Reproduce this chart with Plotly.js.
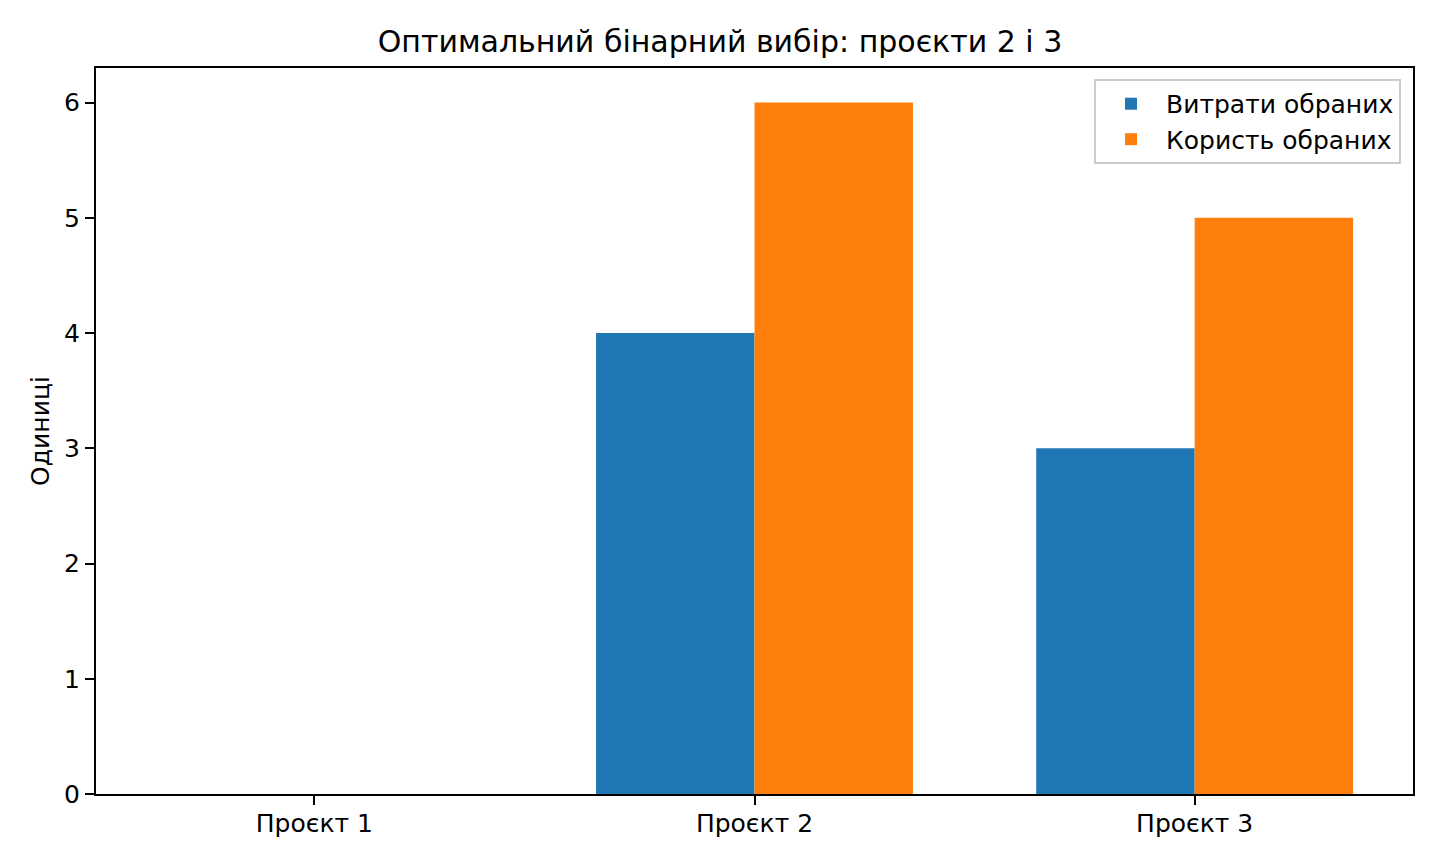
<!DOCTYPE html>
<html>
<head>
<meta charset="utf-8">
<script src="https://cdn.plot.ly/plotly-3.0.1.min.js"></script>
<style>
  html, body { margin: 0; padding: 0; background: #fff; }
  #chart { width: 1440px; height: 864px; }
</style>
</head>
<body>
<div id="chart"></div>
<script>
/* Data */
const projects = ['Проєкт 1', 'Проєкт 2', 'Проєкт 3'];
const costSelected = [0, 4, 3];
const benefitSelected = [0, 6, 5];
const yTicks = [0, 1, 2, 3, 4, 5, 6];

const FONT = 'DejaVu Sans, sans-serif';

const axisBase = {
  showline: true, linecolor: '#000', linewidth: 2, mirror: true,
  ticks: 'outside', ticklen: 9, tickwidth: 2, tickcolor: '#000',
  showgrid: false, zeroline: false,
  tickfont: { family: FONT, size: 25, color: '#000' }
};

const traces = [
  {
    x: projects, y: costSelected, type: 'bar', name: 'Витрати обраних',
    marker: { color: '#1f77b4', line: { width: 0 } }
  },
  {
    x: projects, y: benefitSelected, type: 'bar', name: 'Користь обраних',
    marker: { color: '#ff7f0e', line: { width: 0 } }
  }
];

const layout = {
  width: 1440, height: 864,
  paper_bgcolor: '#fff', plot_bgcolor: '#fff',
  margin: { l: 96, r: 27, t: 68, b: 70 },
  font: { family: FONT, size: 25, color: '#000' },
  title: {
    text: 'Оптимальний бінарний вибір: проєкти 2 і 3',
    font: { family: FONT, size: 30, color: '#000' },
    x: 0.5, xanchor: 'center', y: 1 - 41 / 864, yanchor: 'middle'
  },
  barmode: 'group', bargap: 0.28, bargroupgap: 0,
  xaxis: Object.assign({}, axisBase, {
    type: 'category', range: [-0.496, 2.496], ticklabelstandoff: -3
  }),
  yaxis: Object.assign({}, axisBase, {
    range: [0, 6.3], tickvals: yTicks, ticktext: yTicks.map(String),
    title: { text: 'Одиниці', font: { family: FONT, size: 25, color: '#000' }, standoff: 7 }
  }),
  showlegend: true,
  legend: {
    x: 0.9909, xanchor: 'right', y: 0.9849, yanchor: 'top',
    bgcolor: 'rgba(255,255,255,0.8)', bordercolor: '#cccccc', borderwidth: 2,
    font: { family: FONT, size: 25, color: '#000' },
    traceorder: 'normal', itemwidth: 60, tracegroupgap: 0
  }
};

Plotly.newPlot('chart', traces, layout, { displayModeBar: false, responsive: false });
</script>
</body>
</html>
